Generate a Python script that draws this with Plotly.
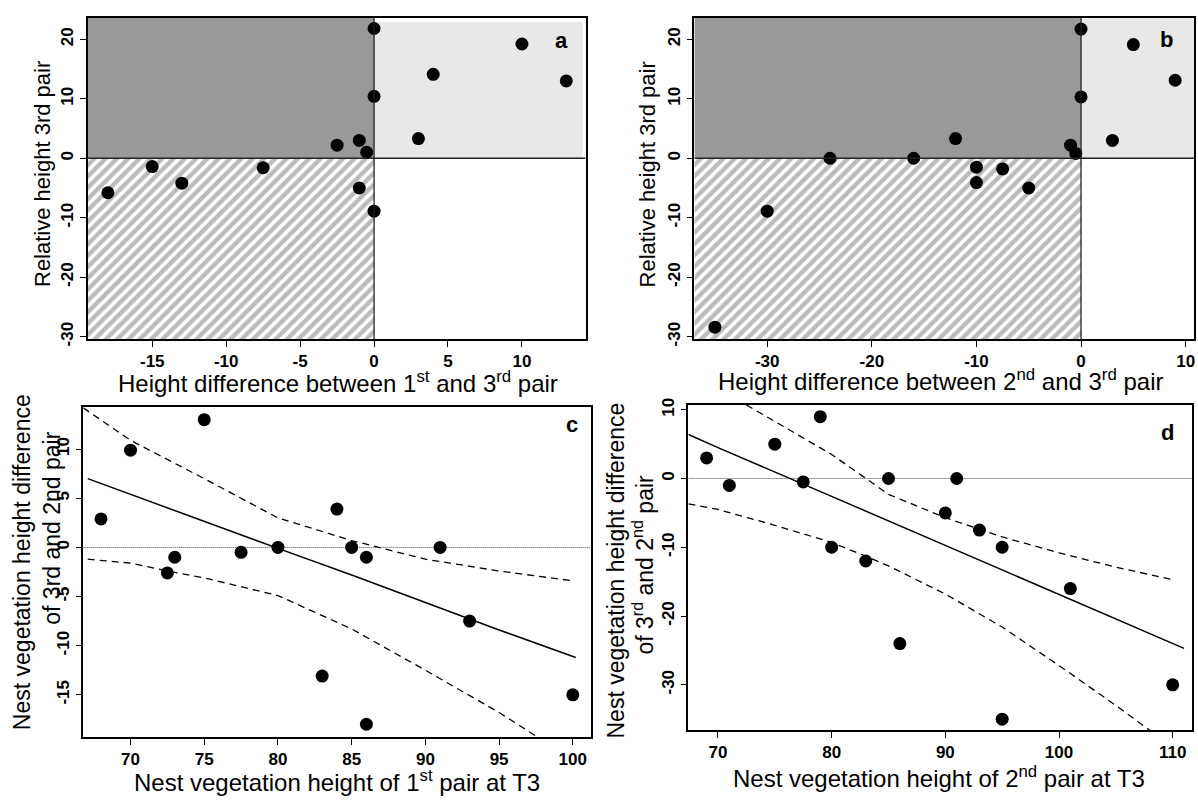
import plotly.graph_objects as go

# ---------------- data ----------------
# Panel a
a_x = [-18, -15, -13, -7.5, -2.5, -1, -0.5, -1, 0, 0, 0, 3, 4, 10, 13]
a_y = [-5.8, -1.4, -4.2, -1.6, 2.2, 3.0, 1.0, -5.0, 21.8, 10.4, -8.9, 3.3, 14.1, 19.2, 13.0]
# Panel b
b_x = [-35, -30, -24, -16, -12, -10, -10, -7.5, -5, -1, -0.5, 0, 0, 3, 5, 9]
b_y = [-28.4, -8.9, 0, 0, 3.3, -1.5, -4.1, -1.8, -5.0, 2.2, 0.8, 21.7, 10.3, 3.0, 19.1, 13.1]
# Panel c
c_x = [68, 70, 72.5, 73, 75, 77.5, 80, 83, 84, 85, 86, 86, 91, 93, 100]
c_y = [2.9, 9.9, -2.6, -1.0, 13.0, -0.5, 0, -13.1, 3.9, 0, -1.0, -18.0, 0, -7.5, -15.0]
c_fit_x = [67.1, 70, 75, 80, 85, 90, 95, 100.2]
c_fit_y = [7.0, 5.4, 2.6, -0.1, -2.8, -5.6, -8.4, -11.2]
c_up_x = [66.8, 70, 75, 80, 85, 90, 95, 100]
c_up_y = [14.2, 10.9, 7.0, 3.0, 0.7, -1.2, -2.4, -3.4]
c_lo_x = [67.1, 70, 72.5, 75, 80, 85, 90, 95, 97.6, 100]
c_lo_y = [-1.2, -1.6, -2.4, -3.1, -4.9, -8.3, -12.5, -16.8, -19.3, -21.5]
# Panel d
d_x = [69, 71, 75, 77.5, 79, 80, 83, 85, 86, 90, 91, 93, 95, 95, 101, 110]
d_y = [3, -1, 5, -0.5, 9, -10, -12, 0, -24, -5, 0, -7.5, -10, -35, -16, -30]
d_fit_x = [67.4, 70, 80, 90, 100, 111.0]
d_fit_y = [6.4, 4.5, -2.6, -9.7, -16.9, -24.7]
d_up_x = [72.5, 75, 80, 85, 90, 95, 100, 105, 110]
d_up_y = [10.7, 8.3, 3.5, -2.3, -5.7, -8.5, -10.8, -12.9, -14.7]
d_lo_x = [67.4, 70, 75, 80, 83, 85, 90, 95, 100, 105, 108.3, 110]
d_lo_y = [-3.7, -4.5, -6.8, -9.3, -11.3, -12.7, -16.8, -21.6, -27.2, -33.0, -37.0, -39.0]

# tick values
a_xticks = [-15, -10, -5, 0, 5, 10]
b_xticks = [-30, -20, -10, 0, 10]
ab_yticks = [-30, -20, -10, 0, 10, 20]
c_xticks = [70, 75, 80, 85, 90, 95, 100]
c_yticks = [-15, -10, -5, 0, 5, 10]
d_xticks = [70, 80, 90, 100, 110]
d_yticks = [-30, -20, -10, 0, 10]

# ---------------- layout helpers ----------------
W, H = 1198, 803
def px(v):
    return v / W
def py(v):
    return 1 - v / H

FONT = "Liberation Sans, Arial, Helvetica, sans-serif"
DARK = "#999999"
LIGHT = "#e8e8e8"

a_xr = [-19.35, 14.3]
b_xr = [-36.96, 10.8]
ab_yr = [-30.4, 23.6]
c_xr = [66.8, 101.2]
c_yr = [-19.3, 14.3]
d_xr = [67.4, 111.7]
d_yr = [-36.6, 10.7]

fig = go.Figure()

def quad_panel(xa, ya, xr, yr, xs, ys, light_right, light_top):
    # hatched lower-left quadrant
    fig.add_trace(go.Scatter(
        x=[xr[0], 0, 0, xr[0], xr[0]], y=[yr[0], yr[0], 0, 0, yr[0]],
        xaxis=xa, yaxis=ya, mode="lines", line=dict(width=0),
        fill="toself", fillcolor="white",
        fillpattern=dict(shape="/", fgcolor="#777777", bgcolor="white", size=8, solidity=0.55),
        hoverinfo="skip", showlegend=False))
    axn = xa.replace("x", "")
    xref = "x" + axn
    yref = "y" + axn
    fig.add_shape(type="rect", xref=xref, yref=yref, x0=xr[0], x1=0, y0=0, y1=yr[1],
                  fillcolor=DARK, line=dict(width=0), layer="below")
    fig.add_shape(type="rect", xref=xref, yref=yref, x0=0, x1=light_right, y0=0, y1=light_top,
                  fillcolor=LIGHT, line=dict(width=0), layer="below")
    fig.add_shape(type="line", xref=xref, yref=yref, x0=xr[0], x1=xr[1], y0=0, y1=0,
                  line=dict(color="#222", width=1.3), layer="above")
    fig.add_shape(type="line", xref=xref, yref=yref, x0=0, x1=0, y0=yr[0], y1=yr[1],
                  line=dict(color="#222", width=1.3), layer="above")
    fig.add_trace(go.Scatter(x=xs, y=ys, xaxis=xa, yaxis=ya, mode="markers",
                             marker=dict(color="black", size=13), showlegend=False))

quad_panel("x", "y", a_xr, ab_yr, a_x, a_y, 14.1, 22.9)
quad_panel("x2", "y2", b_xr, ab_yr, b_x, b_y, b_xr[1], ab_yr[1])

def reg_panel(xa, ya, xr, xs, ys, fx, fy, ux, uy, lx, ly):
    axn = xa.replace("x", "")
    fig.add_shape(type="line", xref="x" + axn, yref="y" + axn, x0=xr[0], x1=xr[1], y0=0, y1=0,
                  line=dict(color="#444", width=1, dash="1px,1px"), layer="below")
    fig.add_trace(go.Scatter(x=fx, y=fy, xaxis=xa, yaxis=ya, mode="lines",
                             line=dict(color="black", width=1.5), showlegend=False))
    for lxx, lyy in ((ux, uy), (lx, ly)):
        fig.add_trace(go.Scatter(x=lxx, y=lyy, xaxis=xa, yaxis=ya, mode="lines",
                                 line=dict(color="black", width=1.3, dash="7px,5px"),
                                 showlegend=False))
    fig.add_trace(go.Scatter(x=xs, y=ys, xaxis=xa, yaxis=ya, mode="markers",
                             marker=dict(color="black", size=13), showlegend=False))

reg_panel("x3", "y3", c_xr, c_x, c_y, c_fit_x, c_fit_y, c_up_x, c_up_y, c_lo_x, c_lo_y)
reg_panel("x4", "y4", d_xr, d_x, d_y, d_fit_x, d_fit_y, d_up_x, d_up_y, d_lo_x, d_lo_y)

tickfont = dict(family=FONT, size=17, color="black", weight="bold")
def ax(domain, rng, ticks, anchor, vertical=False):
    d = dict(domain=domain, range=rng, tickvals=ticks, ticktext=[str(t) for t in ticks],
             showgrid=False, zeroline=False,
             showline=True, mirror=True, linecolor="black", linewidth=1.5,
             ticks="outside", ticklen=6, tickwidth=1.3, tickcolor="black",
             tickfont=tickfont, anchor=anchor)
    if vertical:
        d["tickangle"] = -90
    return d

fig.update_layout(
    width=W, height=H, margin=dict(l=0, r=0, t=0, b=0),
    paper_bgcolor="white", plot_bgcolor="white", showlegend=False,
    font=dict(family=FONT, color="black"),
    xaxis=ax([px(88), px(586)], a_xr, a_xticks, "y"),
    yaxis=ax([py(338), py(11)], ab_yr, ab_yticks, "x", True),
    xaxis2=ax([px(695), px(1195)], b_xr, b_xticks, "y2"),
    yaxis2=ax([py(338), py(11)], ab_yr, ab_yticks, "x2", True),
    xaxis3=ax([px(83.4), px(591)], c_xr, c_xticks, "y3"),
    yaxis3=ax([py(743), py(407)], c_yr, c_yticks, "x3", True),
    xaxis4=ax([px(689), px(1193)], d_xr, d_xticks, "y4"),
    yaxis4=ax([py(736), py(405)], d_yr, d_yticks, "x4", True),
)

XT = dict(family=FONT, size=24, color="black")
YT = dict(family=FONT, size=23, color="black")
YT2 = dict(family=FONT, size=22, color="black")
def note(x, y, text, angle=0, font=XT, yanchor="middle"):
    fig.add_annotation(x=px(x), y=py(y), xref="paper", yref="paper", text=text,
                       showarrow=False, textangle=angle, font=font,
                       xanchor="center", yanchor=yanchor)

note(338, 399, "Height difference between 1<sup>st</sup> and 3<sup>rd</sup> pair", yanchor="bottom")
note(941, 397, "Height difference between 2<sup>nd</sup> and 3<sup>rd</sup> pair", yanchor="bottom")
note(337, 805, "Nest vegetation height of 1<sup>st</sup> pair at T3", yanchor="bottom")
note(940, 801, "Nest vegetation height of 2<sup>nd</sup> pair at T3", yanchor="bottom")

note(42, 170, "Relative height 3rd pair", -90, YT2)
note(648, 170, "Relative height 3rd pair", -90, YT2)
note(22, 565, "Nest vegetation height difference", -90, YT)
note(52, 530, "of 3rd and 2nd pair", -90, YT)
note(617, 573, "Nest vegetation height difference", -90, YT)
note(644, 567, "of 3<sup>rd</sup> and 2<sup>nd</sup> pair", -90, YT)

LET = dict(family=FONT, size=22, color="black", weight="bold")
note(562, 34, "a", font=LET)
note(1167, 33, "b", font=LET)
note(572, 425, "c", font=LET)
note(1168, 433, "d", font=LET)

fig.write_html("out.html", config={"displayModeBar": False},
               post_script="document.body.style.margin='0px';")
